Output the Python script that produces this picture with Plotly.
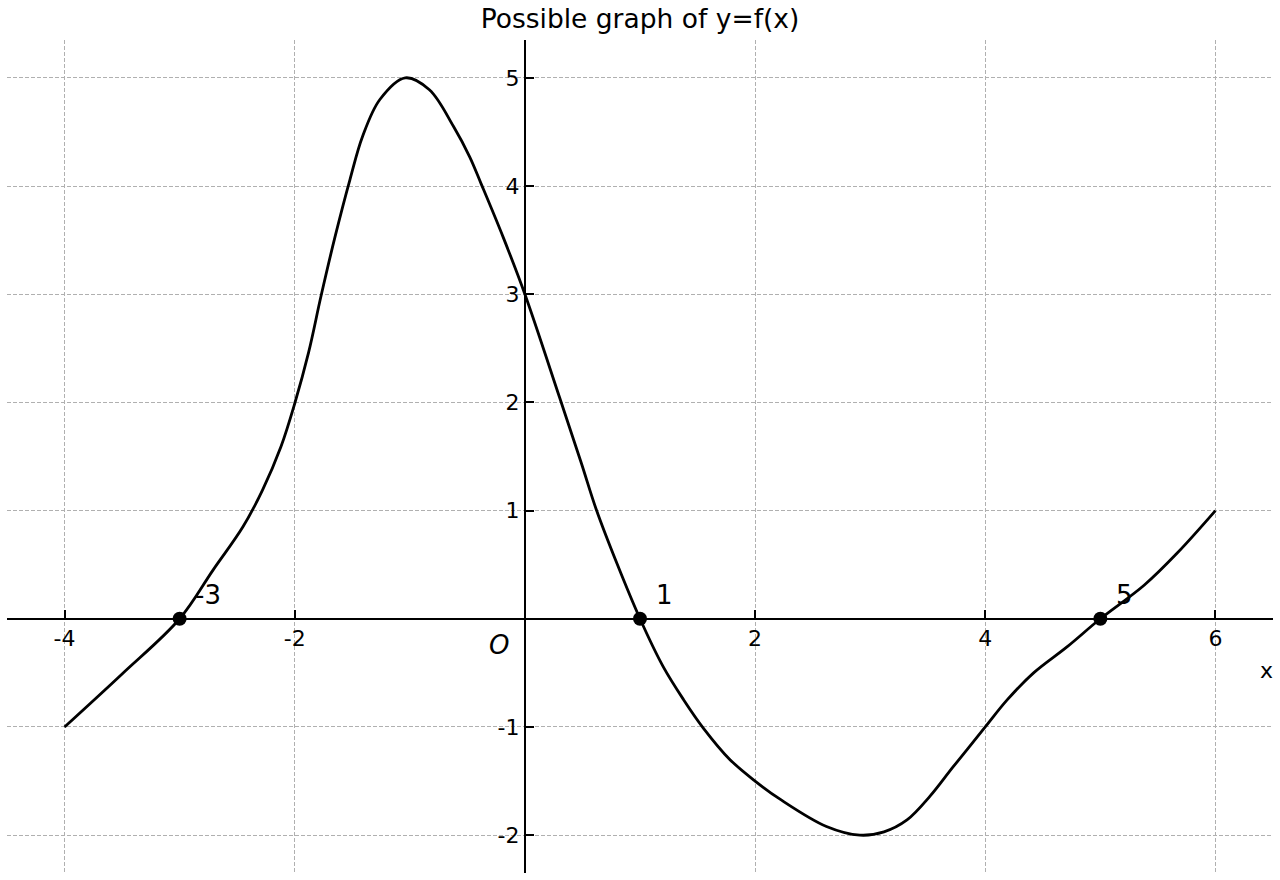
import plotly.graph_objects as go

# Curve points
curve_x = [-4.0, -3.5, -3.0, -2.71, -2.45, -2.28, -2.12, -2.0, -1.88, -1.77, -1.65, -1.52,
           -1.41, -1.26, -1.04, -0.83, -0.62, -0.48, -0.38, -0.19, 0.0, 0.30, 0.49, 0.62,
           0.80, 1.0, 1.20, 1.38, 1.55, 1.78, 2.0, 2.22, 2.62, 2.91, 3.12, 3.32, 3.52,
           3.72, 4.0, 4.19, 4.42, 4.71, 5.0, 5.38, 5.67, 6.0]
curve_y = [-1.0, -0.51, 0.0, 0.45, 0.85, 1.19, 1.59, 1.99, 2.46, 2.99, 3.53, 4.06,
           4.46, 4.80, 5.0, 4.89, 4.55, 4.27, 4.02, 3.53, 3.0, 2.05, 1.44, 1.01,
           0.51, 0.0, -0.44, -0.75, -1.01, -1.30, -1.50, -1.67, -1.92, -2.0, -1.97, -1.86, -1.64,
           -1.37, -1.0, -0.75, -0.50, -0.26, 0.0, 0.31, 0.61, 1.0]

# Zeros of the function (marked points)
zero_x = [-3, 1, 5]
zero_y = [0, 0, 0]
zero_labels = ["-3", "1", "5"]

x_ticks = [-4, -2, 2, 4, 6]
y_ticks = [-2, -1, 1, 2, 3, 4, 5]
x_range = [-4.5, 6.5]
y_range = [-2.35, 5.35]

FONT = "DejaVu Sans"

fig = go.Figure()
fig.add_trace(go.Scatter(x=curve_x, y=curve_y, mode="lines",
                         line=dict(color="black", width=2.8, shape="spline", smoothing=1.0),
                         showlegend=False, hoverinfo="skip"))
fig.add_trace(go.Scatter(x=zero_x, y=zero_y, mode="markers",
                         marker=dict(color="black", size=14),
                         showlegend=False))

for zx, lab in zip(zero_x, zero_labels):
    fig.add_annotation(x=zx + 0.12, y=0.22, text=lab, showarrow=False,
                       xanchor="left", yanchor="middle",
                       font=dict(family=FONT, size=26, color="black"))

fig.add_annotation(x=-0.226, y=-0.24, text="<i>O</i>", showarrow=False,
                   xanchor="center", yanchor="middle",
                   font=dict(family=FONT, size=26, color="black"))
fig.add_annotation(x=6.44, y=-0.48, text="x", showarrow=False,
                   xanchor="center", yanchor="middle",
                   font=dict(family=FONT, size=22, color="black"))
fig.add_annotation(x=-0.50, y=5.46, text="y", showarrow=False,
                   xanchor="center", yanchor="middle",
                   font=dict(family=FONT, size=22, color="black"))

x_pos = (0 - x_range[0]) / (x_range[1] - x_range[0])
y_pos = (0 - y_range[0]) / (y_range[1] - y_range[0])

fig.update_layout(
    width=1280, height=880,
    margin=dict(l=7, r=7, t=40, b=7),
    paper_bgcolor="white", plot_bgcolor="white",
    font=dict(family=FONT, size=22, color="black"),
    title=dict(text="Possible graph of y=f(x)", x=0.5, xanchor="center",
               y=1 - 19 / 880, yanchor="middle",
               font=dict(family=FONT, size=26.5, color="black")),
    xaxis=dict(range=x_range, tickvals=x_ticks, ticktext=[str(v) for v in x_ticks],
               showgrid=True, gridcolor="#b0b0b0", gridwidth=1, griddash="4px,2px",
               zeroline=False, showline=True, linecolor="black", linewidth=2,
               ticks="inside", ticklen=8, tickwidth=1.5, tickcolor="black",
               anchor="free", position=y_pos, side="bottom",
               tickfont=dict(family=FONT, size=22, color="black")),
    yaxis=dict(range=y_range, tickvals=y_ticks, ticktext=[str(v) for v in y_ticks],
               showgrid=True, gridcolor="#b0b0b0", gridwidth=1, griddash="4px,2px",
               zeroline=False, showline=True, linecolor="black", linewidth=2,
               ticks="inside", ticklen=8, tickwidth=1.5, tickcolor="black",
               anchor="free", position=x_pos, side="left",
               tickfont=dict(family=FONT, size=22, color="black")),
)

fig.write_html("out.html")
